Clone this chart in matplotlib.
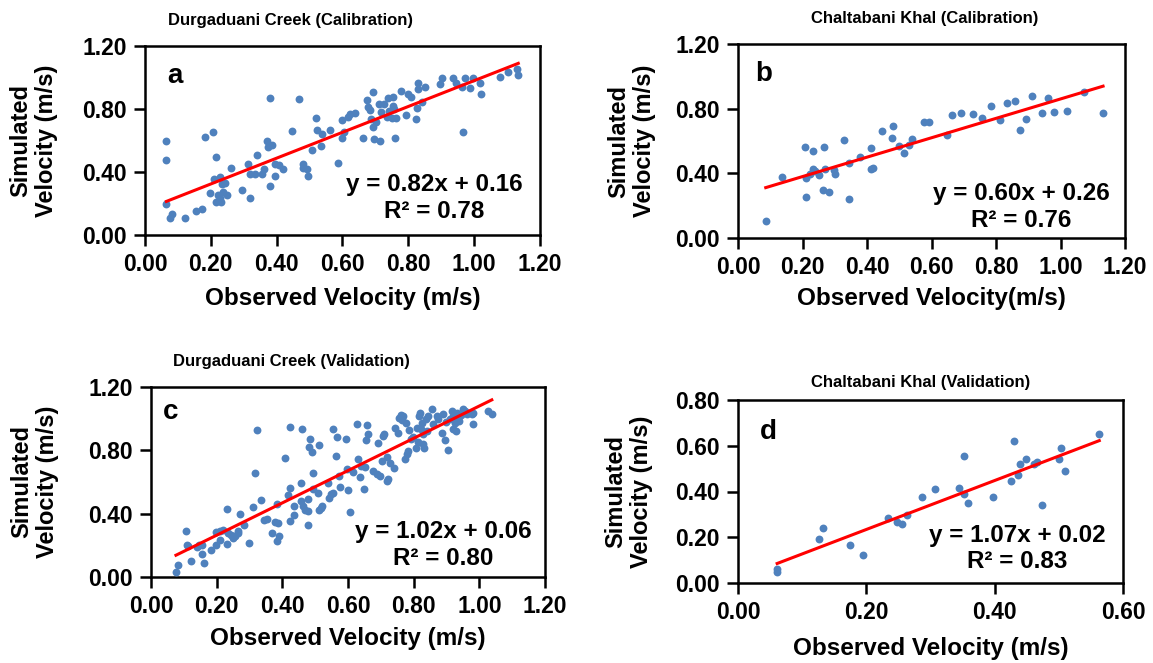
import matplotlib
matplotlib.use("Agg")
import matplotlib.pyplot as plt
import numpy as np

plt.rcParams['font.family'] = ['Liberation Sans', 'DejaVu Sans']
plt.rcParams['font.weight'] = 'bold'

# ---- data (observed, simulated) ----
# a: Durgaduani Creek (Calibration)
obs_a = [0.065, 0.065, 0.065, 0.075, 0.081, 0.121, 0.156, 0.172, 0.182, 0.207, 0.217, 0.197,
         0.209, 0.227, 0.233, 0.222, 0.227, 0.232, 0.217, 0.237, 0.248, 0.243, 0.260, 0.295,
         0.313, 0.318, 0.318, 0.334, 0.341, 0.356, 0.361, 0.372, 0.374, 0.387, 0.379, 0.381,
         0.394, 0.396, 0.408, 0.420, 0.448, 0.467, 0.480, 0.480, 0.491, 0.496, 0.506, 0.521,
         0.523, 0.536, 0.539, 0.562, 0.585, 0.599, 0.600, 0.604, 0.617, 0.622, 0.637, 0.663,
         0.673, 0.678, 0.683, 0.693, 0.688, 0.693, 0.696, 0.701, 0.711, 0.713, 0.718, 0.727,
         0.734, 0.739, 0.742, 0.749, 0.752, 0.754, 0.756, 0.759, 0.764, 0.779, 0.794, 0.800,
         0.807, 0.823, 0.827, 0.830, 0.830, 0.843, 0.850, 0.896, 0.901, 0.936, 0.946, 0.962,
         0.967, 0.972, 0.987, 0.997, 1.017, 1.022, 1.078, 1.103, 1.129, 1.134]
sim_a = [0.596, 0.478, 0.194, 0.105, 0.133, 0.109, 0.152, 0.162, 0.625, 0.657, 0.495, 0.269,
         0.358, 0.368, 0.326, 0.253, 0.232, 0.211, 0.211, 0.274, 0.253, 0.333, 0.427, 0.288,
         0.453, 0.238, 0.385, 0.389, 0.509, 0.385, 0.421, 0.600, 0.558, 0.573, 0.312, 0.869,
         0.373, 0.453, 0.442, 0.421, 0.663, 0.863, 0.453, 0.425, 0.421, 0.373, 0.537, 0.745,
         0.667, 0.568, 0.642, 0.667, 0.459, 0.615, 0.731, 0.653, 0.752, 0.768, 0.775, 0.619,
         0.857, 0.811, 0.794, 0.909, 0.737, 0.684, 0.611, 0.716, 0.829, 0.596, 0.779, 0.832,
         0.752, 0.867, 0.789, 0.745, 0.878, 0.821, 0.800, 0.617, 0.743, 0.912, 0.764, 0.895,
         0.874, 0.737, 0.806, 0.968, 0.926, 0.842, 0.941, 0.958, 0.994, 0.994, 0.968, 0.937,
         0.653, 0.994, 0.931, 1.000, 0.968, 0.895, 1.004, 1.038, 1.053, 1.015]

# b: Chaltabani Khal (Calibration)
obs_b = [0.086, 0.135, 0.207, 0.210, 0.212, 0.223, 0.233, 0.233, 0.238, 0.251, 0.264, 0.267,
         0.269, 0.282, 0.298, 0.300, 0.329, 0.344, 0.344, 0.377, 0.411, 0.413, 0.420, 0.447,
         0.477, 0.480, 0.500, 0.516, 0.531, 0.539, 0.577, 0.591, 0.649, 0.663, 0.693, 0.730,
         0.757, 0.785, 0.812, 0.834, 0.860, 0.873, 0.894, 0.912, 0.942, 0.960, 0.981, 1.020,
         1.074, 1.132]
sim_b = [0.103, 0.376, 0.564, 0.256, 0.373, 0.394, 0.537, 0.425, 0.416, 0.390, 0.297, 0.562,
         0.427, 0.283, 0.421, 0.396, 0.605, 0.240, 0.466, 0.498, 0.554, 0.425, 0.431, 0.663,
         0.619, 0.695, 0.568, 0.527, 0.578, 0.615, 0.720, 0.716, 0.640, 0.761, 0.775, 0.767,
         0.743, 0.816, 0.728, 0.835, 0.847, 0.671, 0.736, 0.880, 0.771, 0.866, 0.779, 0.784,
         0.903, 0.771]

# c: Durgaduani Creek (Validation)
obs_c = [0.076, 0.083, 0.107, 0.109, 0.114, 0.121, 0.141, 0.147, 0.154, 0.155, 0.162, 0.183,
         0.198, 0.198, 0.210, 0.210, 0.218, 0.230, 0.232, 0.236, 0.243, 0.251, 0.256, 0.264,
         0.266, 0.270, 0.283, 0.299, 0.310, 0.317, 0.322, 0.335, 0.345, 0.352, 0.368, 0.378,
         0.383, 0.383, 0.388, 0.391, 0.409, 0.418, 0.423, 0.424, 0.424, 0.436, 0.437, 0.456,
         0.458, 0.459, 0.462, 0.469, 0.479, 0.479, 0.479, 0.484, 0.482, 0.491, 0.492, 0.494,
         0.513, 0.510, 0.513, 0.517, 0.520, 0.540, 0.543, 0.547, 0.553, 0.555, 0.563, 0.565,
         0.574, 0.576, 0.594, 0.596, 0.601, 0.606, 0.616, 0.626, 0.631, 0.637, 0.640, 0.649,
         0.652, 0.654, 0.657, 0.662, 0.677, 0.687, 0.692, 0.697, 0.703, 0.706, 0.711, 0.718,
         0.720, 0.723, 0.728, 0.740, 0.743, 0.753, 0.756, 0.760, 0.763, 0.769, 0.775, 0.777,
         0.779, 0.784, 0.787, 0.791, 0.799, 0.807, 0.811, 0.814, 0.817, 0.819, 0.821, 0.824,
         0.827, 0.829, 0.831, 0.838, 0.840, 0.845, 0.855, 0.860, 0.870, 0.875, 0.885, 0.890,
         0.895, 0.898, 0.906, 0.911, 0.916, 0.919, 0.921, 0.926, 0.929, 0.931, 0.936, 0.939,
         0.943, 0.951, 0.956, 0.961, 0.977, 0.982, 0.982, 1.027, 1.038]
sim_c = [0.032, 0.076, 0.291, 0.200, 0.196, 0.101, 0.189, 0.204, 0.143, 0.202, 0.086, 0.171,
         0.202, 0.284, 0.232, 0.291, 0.295, 0.211, 0.432, 0.276, 0.265, 0.248, 0.259, 0.280,
         0.291, 0.398, 0.326, 0.213, 0.444, 0.659, 0.931, 0.486, 0.358, 0.368, 0.280, 0.347,
         0.463, 0.227, 0.343, 0.259, 0.754, 0.518, 0.564, 0.947, 0.354, 0.389, 0.448, 0.480,
         0.596, 0.937, 0.448, 0.421, 0.495, 0.328, 0.417, 0.869, 0.821, 0.789, 0.655, 0.554,
         0.832, 0.533, 0.421, 0.438, 0.448, 0.592, 0.501, 0.522, 0.533, 0.937, 0.764, 0.884,
         0.638, 0.571, 0.869, 0.680, 0.547, 0.411, 0.663, 0.968, 0.743, 0.634, 0.701, 0.554,
         0.697, 0.865, 0.962, 0.905, 0.669, 0.648, 0.848, 0.638, 0.733, 0.891, 0.901, 0.760,
         0.606, 0.617, 0.718, 0.691, 0.943, 0.912, 1.002, 1.023, 0.992, 1.017, 0.743, 0.975,
         0.779, 0.796, 0.928, 0.869, 0.884, 0.813, 0.943, 0.855, 1.017, 1.038, 0.933, 0.975,
         0.838, 0.901, 0.817, 1.000, 0.922, 1.017, 1.059, 0.964, 1.017, 1.000, 0.912, 1.027,
         0.863, 0.979, 0.800, 0.996, 1.048, 1.017, 0.933, 0.975, 0.922, 1.038, 0.996, 0.985,
         1.021, 1.059, 1.048, 1.027, 1.027, 0.964, 1.038, 1.048, 1.027]

# d: Chaltabani Khal (Validation)
obs_d = [0.061, 0.061, 0.126, 0.132, 0.174, 0.195, 0.233, 0.248, 0.256, 0.263, 0.287, 0.307,
         0.345, 0.352, 0.352, 0.359, 0.397, 0.425, 0.430, 0.437, 0.439, 0.449, 0.461, 0.466,
         0.474, 0.500, 0.504, 0.509, 0.563]
sim_d = [0.062, 0.046, 0.194, 0.239, 0.167, 0.122, 0.286, 0.268, 0.258, 0.296, 0.374, 0.412,
         0.416, 0.555, 0.390, 0.351, 0.378, 0.446, 0.620, 0.472, 0.519, 0.544, 0.521, 0.528,
         0.342, 0.544, 0.588, 0.488, 0.653]

# trendline coefficients as printed on the chart (slope, intercept, R2)
slopes = [0.82, 0.60, 1.02, 1.07]
intercepts = [0.16, 0.26, 0.06, 0.02]
r2 = [0.78, 0.76, 0.80, 0.83]
titles = ["Durgaduani Creek (Calibration)", "Chaltabani Khal (Calibration)",
          "Durgaduani Creek (Validation)", "Chaltabani Khal (Validation)"]
xlabels = ["Observed Velocity (m/s)", "Observed Velocity(m/s)",
           "Observed Velocity (m/s)", "Observed Velocity (m/s)"]
letters = ["a", "b", "c", "d"]

obs = [obs_a, obs_b, obs_c, obs_d]
sim = [sim_a, sim_b, sim_c, sim_d]

W, H = 1153, 663
fig = plt.figure(figsize=(W / 100, H / 100), dpi=100)

# axes boxes in pixels: left, top, right, bottom
boxes = [(145, 46, 540, 235), (738, 44, 1125, 238),
         (151, 387, 545, 577), (738, 400, 1123, 583)]
xmax = [1.2, 1.2, 1.2, 0.6]
ymax = [1.2, 1.2, 1.2, 0.8]
ystep = [0.4, 0.4, 0.4, 0.2]
eq_pos = [(0.732, 0.197), (0.731, 0.159), (0.742, 0.168), (0.725, 0.189)]
let_pos = [(0.056, 0.842), (0.044, 0.846), (0.03, 0.868), (0.057, 0.827)]
title_pos = [(291, 20), (925, 18), (291, 362), (921, 383)]
xlab_y = [298, 298, 638, 648]
ylab_x = [34, 632, 35, 629]

blue = '#4F81BD'

for i in range(4):
    l, t, r, b = boxes[i]
    ax = fig.add_axes([l / W, 1 - b / H, (r - l) / W, (b - t) / H])
    x = np.array(obs[i])
    y = np.array(sim[i])
    ax.scatter(x, y, s=32, color=blue, zorder=3, linewidths=0)
    xl = np.array([x.min(), x.max()])
    ax.plot(xl, slopes[i] * xl + intercepts[i], color='#FF0000', lw=2.2, zorder=4)

    ax.set_xlim(0, xmax[i])
    ax.set_ylim(0, ymax[i])
    ax.set_xticks(np.arange(0, xmax[i] + 0.01, 0.2))
    ax.set_yticks(np.arange(0, ymax[i] + 0.01, ystep[i]))
    ax.xaxis.set_major_formatter(matplotlib.ticker.FormatStrFormatter('%.2f'))
    ax.yaxis.set_major_formatter(matplotlib.ticker.FormatStrFormatter('%.2f'))
    ax.tick_params(direction='out', length=8, width=1.8, labelsize=16.5, pad=5)
    for sp in ax.spines.values():
        sp.set_linewidth(1.8)
        sp.set_color('black')

    ax.text(eq_pos[i][0], eq_pos[i][1],
            "y = %.2fx + %.2f\nR² = %.2f" % (slopes[i], intercepts[i], r2[i]),
            transform=ax.transAxes, ha='center', va='center', multialignment='center',
            fontsize=17.5, fontweight='bold', linespacing=1.2)
    ax.text(let_pos[i][0], let_pos[i][1], letters[i], transform=ax.transAxes,
            ha='left', va='center', fontsize=20, fontweight='bold')

    fig.text(title_pos[i][0] / W, 1 - title_pos[i][1] / H, titles[i],
             ha='center', va='center', fontsize=12, fontweight='bold')
    fig.text((l + r) / 2 / W, 1 - xlab_y[i] / H, xlabels[i],
             ha='center', va='center', fontsize=17.5, fontweight='bold')
    fig.text(ylab_x[i] / W, 1 - (t + b) / 2 / H, "Simulated\nVelocity (m/s)",
             ha='center', va='center', rotation=90, fontsize=17, fontweight='bold',
             multialignment='center', linespacing=1.15)

fig.savefig("out.png", dpi=100)
